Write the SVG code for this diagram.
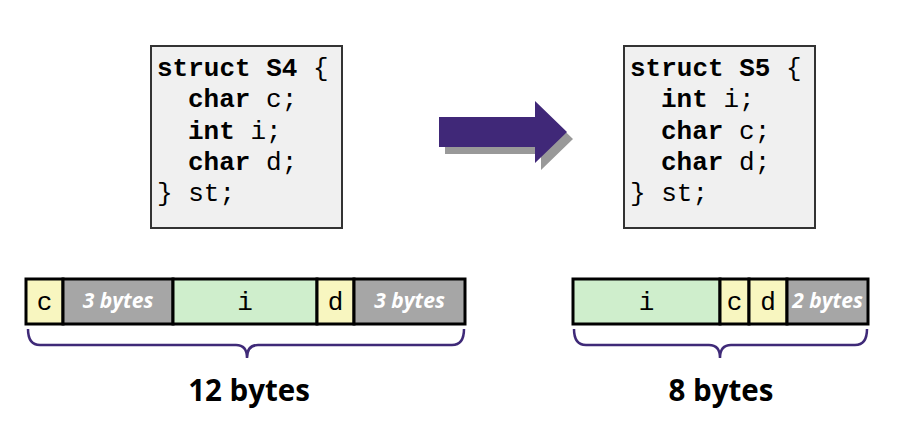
<svg xmlns="http://www.w3.org/2000/svg" width="912" height="434" viewBox="0 0 912 434">
<style>
.box{fill:#f0f0f0;stroke:#333;stroke-width:2}
.code{font-family:"Liberation Mono","Courier New",monospace;font-size:26px;fill:#000}
.kw{font-weight:bold}
.cell{stroke:#000;stroke-width:3}
.y{fill:#f8f6c0}
.g{fill:#cfeecc}
.p{fill:#a6a6a6}
.ct{font-family:"Liberation Mono","Courier New",monospace;font-size:26px;text-anchor:middle;fill:#000}
.pt{font-family:"Open Sans","Liberation Sans",sans-serif;font-size:21px;font-weight:bold;font-style:italic;fill:#fff;text-anchor:middle}
.brace{fill:none;stroke:#3f2a78;stroke-width:2.5}
.lbl{font-family:"Open Sans","Liberation Sans",sans-serif;font-size:29.5px;font-weight:bold;text-anchor:middle;fill:#000}
</style>
<rect width="912" height="434" fill="#fff"/>
<g id="s4">
<rect class="box" x="151" y="46" width="191" height="182"/>
<text class="code" x="157" y="76"><tspan class="kw">struct S4</tspan> {</text>
<text class="code" x="188" y="107"><tspan class="kw">char</tspan> c;</text>
<text class="code" x="188" y="139"><tspan class="kw">int</tspan> i;</text>
<text class="code" x="188" y="170"><tspan class="kw">char</tspan> d;</text>
<text class="code" x="157" y="201">} st;</text>
</g>
<g id="s5">
<rect class="box" x="624" y="46" width="191" height="182"/>
<text class="code" x="630" y="76"><tspan class="kw">struct S5</tspan> {</text>
<text class="code" x="661" y="107"><tspan class="kw">int</tspan> i;</text>
<text class="code" x="661" y="139"><tspan class="kw">char</tspan> c;</text>
<text class="code" x="661" y="170"><tspan class="kw">char</tspan> d;</text>
<text class="code" x="630" y="201">} st;</text>
</g>
<g id="arrow">
<polygon fill="#999" points="445,124 541,124 541,108 573,139 541,170 541,154 445,154"/>
<polygon fill="#402878" points="439,117 535,117 535,101 567,132 535,163 535,147 439,147"/>
</g>
<g id="layout4">
<rect class="cell y" x="26" y="279" width="37" height="45"/>
<rect class="cell p" x="63" y="279" width="110" height="45"/>
<rect class="cell g" x="173" y="279" width="144" height="45"/>
<rect class="cell y" x="317" y="279" width="37" height="45"/>
<rect class="cell p" x="354" y="279" width="111" height="45"/>
<text class="ct" x="44.5" y="310">c</text>
<text class="pt" x="118" y="308">3 bytes</text>
<text class="ct" x="245" y="310">i</text>
<text class="ct" x="335.5" y="310">d</text>
<text class="pt" x="409.5" y="308">3 bytes</text>
</g>
<g id="layout5">
<rect class="cell g" x="573" y="279" width="147" height="45"/>
<rect class="cell y" x="720" y="279" width="29" height="45"/>
<rect class="cell y" x="749" y="279" width="38" height="45"/>
<rect class="cell p" x="787" y="279" width="81" height="45"/>
<text class="ct" x="646.5" y="310">i</text>
<text class="ct" x="734.5" y="310">c</text>
<text class="ct" x="768" y="310">d</text>
<text class="pt" x="827.5" y="308">2 bytes</text>
</g>
<g id="connectors">
<path class="brace" d="M28 329 Q28 345 40 345 H236 Q247 345 247 358 Q247 345 258 345 H452 Q464 345 464 329"/>
<path class="brace" d="M574 329 Q574 345 586 345 H709 Q720 345 720 358 Q720 345 731 345 H855 Q867 345 867 329"/>
</g>
<text id="lbl12" class="lbl" x="249" y="401">12 bytes</text>
<text id="lbl8" class="lbl" x="721" y="401">8 bytes</text>
</svg>
